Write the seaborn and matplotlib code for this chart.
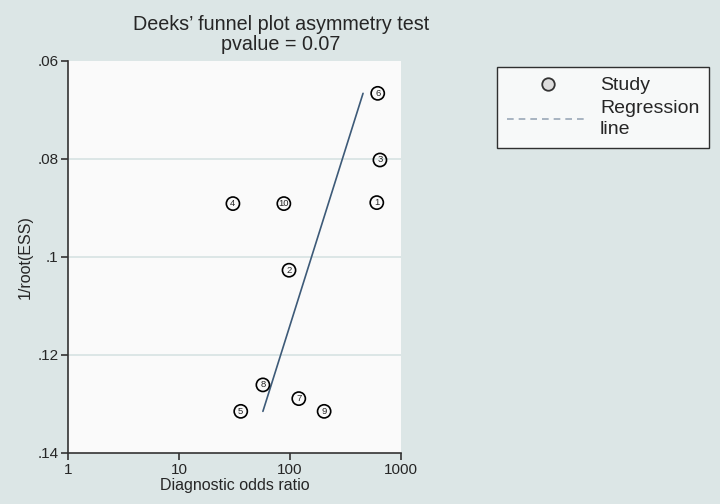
import matplotlib
matplotlib.use("Agg")
import matplotlib.pyplot as plt
import seaborn as sns
import pandas as pd
from matplotlib.lines import Line2D

# Data
study_ids = ["1", "2", "3", "4", "5", "6", "7", "8", "9", "10"]
dor = [605, 98, 646, 30.6, 36, 617, 120, 57, 203, 88]
inv_root_ess = [0.0889, 0.1027, 0.0802, 0.0891, 0.1315, 0.0666, 0.1289, 0.1261, 0.1315, 0.0891]
reg_dor = [57, 455]
reg_y = [0.1315, 0.0666]
x_ticks = [1, 10, 100, 1000]
x_tick_labels = ["1", "10", "100", "1000"]
y_ticks = [0.06, 0.08, 0.10, 0.12, 0.14]
y_tick_labels = [".06", ".08", ".1", ".12", ".14"]

sns.set_style("white")
plt.rcParams["font.family"] = ["Liberation Sans", "DejaVu Sans"]

bg = "#DCE6E6"
fig = plt.figure(figsize=(7.2, 5.04), dpi=100, facecolor=bg)
ax = fig.add_axes([68 / 720, 1 - 453 / 504, (401 - 68) / 720, (453 - 61) / 504])
ax.set_facecolor("#FAFAFA")

df = pd.DataFrame({"dor": dor, "y": inv_root_ess, "id": study_ids})
reg = pd.DataFrame({"dor": reg_dor, "y": reg_y})

ax.set_xscale("log")
ax.set_xlim(1, 1000)
ax.set_ylim(0.14, 0.06)

for yv in y_ticks[1:-1]:
    ax.axhline(yv, color="#DCE6E6", lw=1.4, zorder=0)

sns.lineplot(data=reg, x="dor", y="y", ax=ax, color="#3D5A78", lw=1.2,
             sort=False, estimator=None, zorder=2)
sns.scatterplot(data=df, x="dor", y="y", ax=ax, s=90, marker="o",
                facecolor="none", edgecolor="black", linewidth=1.2, zorder=3)
for _, r in df.iterrows():
    ax.text(r["dor"], r["y"], r["id"], ha="center", va="center",
            fontsize=6.8, zorder=4)

ax.set_xticks(x_ticks)
ax.set_xticklabels(x_tick_labels)
ax.xaxis.set_minor_locator(matplotlib.ticker.NullLocator())
ax.set_yticks(y_ticks)
ax.set_yticklabels(y_tick_labels)
ax.tick_params(axis="both", direction="out", length=5, width=1.2,
               color="#333333", labelsize=11, pad=2, left=True, bottom=True)
for s in ["top", "right"]:
    ax.spines[s].set_visible(False)
for s in ["left", "bottom"]:
    ax.spines[s].set_color("#333333")
    ax.spines[s].set_linewidth(1.2)

ax.set_xlabel("Diagnostic odds ratio", fontsize=11.5, labelpad=1)
ax.set_ylabel("1/root(ESS)", fontsize=11.5, labelpad=3)
fig.text(281 / 720, 1 - 24 / 504, "Deeks’ funnel plot asymmetry test",
         ha="center", va="center", fontsize=14.2)
fig.text(281 / 720, 1 - 44 / 504, "pvalue = 0.07",
         ha="center", va="center", fontsize=14.2)

handles = [
    Line2D([], [], marker="o", linestyle="none", markerfacecolor="#DDDDDD",
           markeredgecolor="#333333", markersize=9, markeredgewidth=1.3),
    Line2D([], [], color="#9AA8B8", linestyle=(0, (4, 3)), lw=1.2),
]
leg = fig.legend(handles, ["Study", "Regression\nline"],
                 loc="upper left", bbox_to_anchor=(497 / 720, 1 - 67 / 504),
                 frameon=True, fancybox=False, fontsize=14, handlelength=4.2,
                 borderpad=0.5, labelspacing=0.3, handletextpad=0.6,
                 borderaxespad=0)
for t in leg.get_texts():
    t.set_linespacing(1.3)
leg.get_frame().set_edgecolor("black")
leg.get_frame().set_linewidth(1.0)
leg.get_frame().set_facecolor("white")

fig.savefig("out.png", dpi=100, facecolor=bg)
